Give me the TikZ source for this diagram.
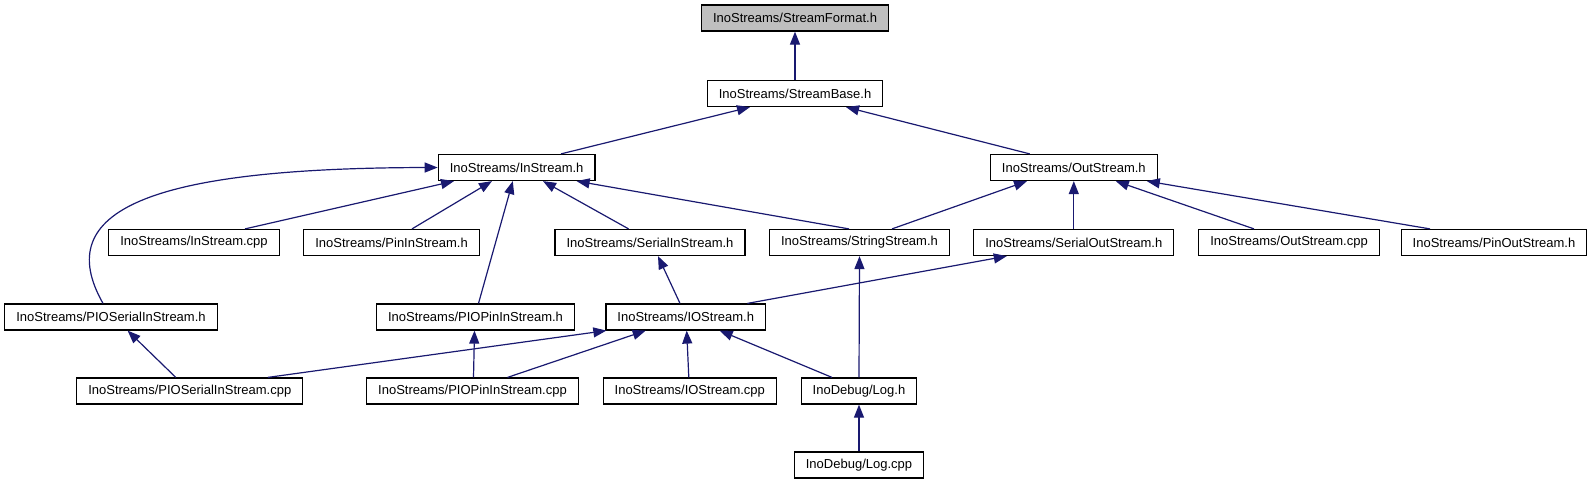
\documentclass[tikz,border=0pt]{standalone}
\usepackage{fontspec}
\setmainfont{Liberation Sans}
\usetikzlibrary{arrows.meta}
\definecolor{edgeblue}{HTML}{191970}
\definecolor{rootgrey}{HTML}{BFBFBF}

\begin{document}
\begin{tikzpicture}[x=1pt, y=-1pt,
  file/.style={draw=black, line width=1.2pt, fill=white, minimum height=26pt,
    inner xsep=11.5pt, inner ysep=0pt, font=\fontsize{13}{15}\selectfont},
  dep/.style={draw=edgeblue, line width=1.2pt, -{Triangle[length=13pt,width=10pt]}}]
\useasboundingbox (0,0) rectangle (1595,485);

% top of the include graph
\node[file, fill=rootgrey] (sfmt) at (795,18) {InoStreams/StreamFormat.h};
\node[file] (sbase) at (795,93.5) {InoStreams/StreamBase.h};
\node[file] (ins) at (516.6,167.5) {InoStreams/InStream.h};
\node[file] (outs) at (1073.8,167.5) {InoStreams/OutStream.h};

% third row
\node[file] (inscpp) at (194,242.5) {InoStreams/InStream.cpp};
\node[file] (pinins) at (391.6,242.5) {InoStreams/PinInStream.h};
\node[file] (serins) at (650,242.5) {InoStreams/SerialInStream.h};
\node[file] (strs) at (859.5,242.5) {InoStreams/StringStream.h};
\node[file] (serouts) at (1073.8,242.5) {InoStreams/SerialOutStream.h};
\node[file] (outscpp) at (1289,242.5) {InoStreams/OutStream.cpp};
\node[file] (pinouts) at (1494,242.5) {InoStreams/PinOutStream.h};

% fourth row
\node[file] (pioser) at (111,317) {InoStreams/PIOSerialInStream.h};
\node[file] (piopin) at (475.5,317) {InoStreams/PIOPinInStream.h};
\node[file] (ios) at (685.7,317) {InoStreams/IOStream.h};

% fifth and last rows
\node[file] (piosercpp) at (189.8,391) {InoStreams/PIOSerialInStream.cpp};
\node[file] (piopincpp) at (472.5,391) {InoStreams/PIOPinInStream.cpp};
\node[file] (ioscpp) at (689.8,391) {InoStreams/IOStream.cpp};
\node[file] (logh) at (859,391) {InoDebug/Log.h};
\node[file] (logcpp) at (859,465) {InoDebug/Log.cpp};

% includes, arrow points at the included file
\draw[dep] (sbase.north) -- (sfmt.south);
\draw[dep] ([xshift=44.4pt]ins.north) -- ([xshift=-45pt]sbase.south);
\draw[dep] ([xshift=-44pt]outs.north) -- ([xshift=51pt]sbase.south);

\draw[dep] ([xshift=51pt]inscpp.north) -- ([xshift=-62.6pt]ins.south);
\draw[dep] ([xshift=20.4pt]pinins.north) -- ([xshift=-24.6pt]ins.south);
\draw[dep] ([xshift=3pt]piopin.north) -- ([xshift=-3.8pt]ins.south);
\draw[dep] ([xshift=-21.4pt]serins.north) -- ([xshift=26.4pt]ins.south);
\draw[dep] ([xshift=-10.5pt]strs.north) -- ([xshift=60pt]ins.south);
\draw[dep] ([xshift=-8pt]pioser.north) .. controls (50,210) and (150,168) .. (ins.west);

\draw[dep] ([xshift=32.5pt]strs.north) -- ([xshift=-46.8pt]outs.south);
\draw[dep] (serouts.north) -- (outs.south);
\draw[dep] ([xshift=-35pt]outscpp.north) -- ([xshift=42pt]outs.south);
\draw[dep] ([xshift=-64pt]pinouts.north) -- ([xshift=73pt]outs.south);

\draw[dep] ([xshift=-5.7pt]ios.north) -- ([xshift=8pt]serins.south);
\draw[dep] ([xshift=61.7pt]ios.north) -- ([xshift=-67pt]serouts.south);
\draw[dep] (logh.north) -- (strs.south);

\draw[dep] ([xshift=-14pt]piosercpp.north) -- ([xshift=16.6pt]pioser.south);
\draw[dep] ([xshift=78pt]piosercpp.north) -- ([xshift=1pt]ios.south west);
\draw[dep] ([xshift=1pt]piopincpp.north) -- ([xshift=-1pt]piopin.south);
\draw[dep] ([xshift=35pt]piopincpp.north) -- ([xshift=-40pt]ios.south);
\draw[dep] ([xshift=-1pt]ioscpp.north) -- ([xshift=1pt]ios.south);
\draw[dep] ([xshift=-27pt]logh.north) -- ([xshift=34pt]ios.south);
\draw[dep] (logcpp.north) -- (logh.south);
\end{tikzpicture}
\end{document}
